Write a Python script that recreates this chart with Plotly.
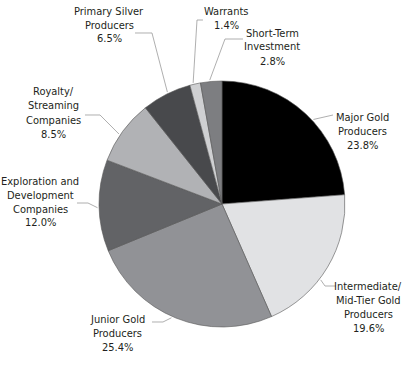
import math
import plotly.graph_objects as go

# ---- data ----
categories = [
    "Major Gold Producers",
    "Intermediate/ Mid-Tier Gold Producers",
    "Junior Gold Producers",
    "Exploration and Development Companies",
    "Royalty/ Streaming Companies",
    "Primary Silver Producers",
    "Warrants",
    "Short-Term Investment",
]
values = [23.8, 19.6, 25.4, 12.0, 8.5, 6.5, 1.4, 2.8]
label_lines = [
    ["Major Gold", "Producers"],
    ["Intermediate/", "Mid-Tier Gold", "Producers"],
    ["Junior Gold", "Producers"],
    ["Exploration and", "Development", "Companies"],
    ["Royalty/", "Streaming", "Companies"],
    ["Primary Silver", "Producers"],
    ["Warrants"],
    ["Short-Term", "Investment"],
]
colors = ["#000000", "#e1e2e4", "#919296", "#626366",
          "#b1b2b5", "#48494c", "#cfd0d2", "#7d7e81"]

# ---- layout constants (pixels) ----
W, H = 420, 373
CX, CY, R = 222, 204, 123
FONT = "DejaVu Sans Condensed, Liberation Sans Narrow, sans-serif"
FS = 11
LINE_H = 14
# label block: center x, y of first line
label_pos = [(362, 117), (368, 286), (117, 319), (40, 181),
             (53, 92), (109, 11), (226, 11), (272, 33)]
# leader elbow and end points
leader_pts = [
    [(333, 115)],
    [(325, 286), (336, 286)],
    [(163, 322), (152, 322)],
    [(88, 203), (77, 203)],
    [(100, 115), (85, 115)],
    [(152, 33), (135, 33)],
    [(197, 20), (203, 20)],
    [(225, 39), (243, 39)],
]
angle_offsets = [4.4, 6.6, 2, -1, -2, 0.8, -0.8, -0.6]


def px(x):
    return x / W


def py(y):
    return 1 - y / H


fig = go.Figure(go.Pie(
    labels=categories,
    values=values,
    sort=False,
    direction="clockwise",
    rotation=0,
    marker=dict(colors=colors, line=dict(color="#555555", width=0.6)),
    textinfo="none",
    hoverinfo="label+percent",
    showlegend=False,
    domain=dict(x=[px(CX - R), px(CX + R)], y=[py(CY + R), py(CY - R)]),
))

total = sum(values)
cum = 0.0
annotations = []
shapes = []
for i, v in enumerate(values):
    mid = (cum + v / 2) / total * 360 + angle_offsets[i]
    cum += v
    a = math.radians(mid)
    sx = CX + (R + 1.5) * math.sin(a)
    sy = CY - (R + 1.5) * math.cos(a)
    pts = [(sx, sy)] + leader_pts[i]
    path = "M " + " L ".join(f"{px(x):.5f},{py(y):.5f}" for x, y in pts)
    shapes.append(dict(type="path", xref="paper", yref="paper", path=path,
                       line=dict(color="#9a9a9a", width=0.8)))
    lines = label_lines[i] + [f"{v:.1f}%"]
    lx, ly = label_pos[i]
    for j, t in enumerate(lines):
        annotations.append(dict(
            x=px(lx), y=py(ly + j * LINE_H), xref="paper", yref="paper",
            text=t, showarrow=False, xanchor="center", yanchor="middle",
            font=dict(family=FONT, size=FS, color="#231f20")))

fig.update_layout(
    width=W, height=H,
    margin=dict(l=0, r=0, t=0, b=0),
    paper_bgcolor="white", plot_bgcolor="white",
    annotations=annotations, shapes=shapes,
)
fig.write_html("out.html",
               config={"displayModeBar": False},
               post_script="document.body.style.margin='0';"
                           "document.body.style.padding='0';")
